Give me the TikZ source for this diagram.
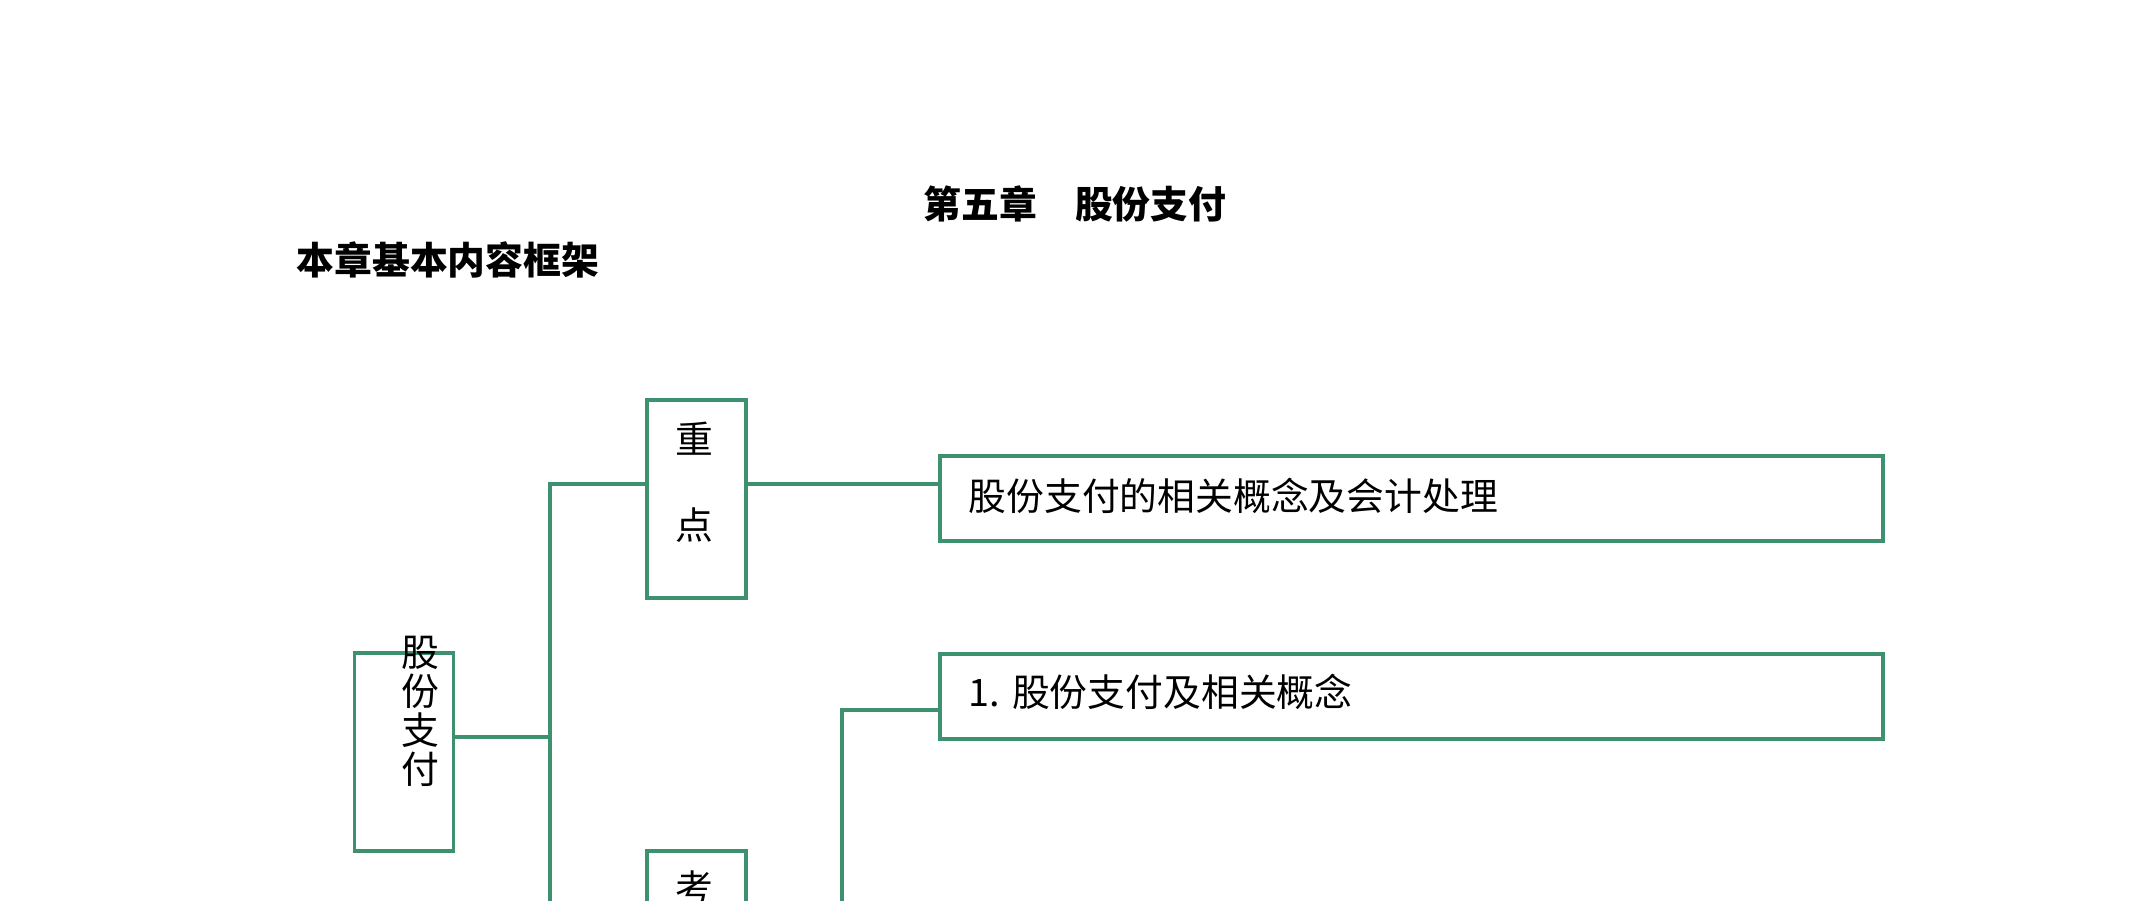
\documentclass[tikz,border=0pt]{standalone}
\usepackage{fontspec}
\setmainfont{Noto Sans CJK SC}
\definecolor{boxgreen}{RGB}{61,145,110}
\begin{document}
\begin{tikzpicture}[x=0.01cm,y=-0.01cm,
  boxline/.style={draw=boxgreen,line width=1.05pt},
  conn/.style={draw=boxgreen,line width=1.05pt},
  txt/.style={font=\fontsize{10.75pt}{13pt}\selectfont,inner sep=0pt},
  ttl/.style={font=\fontsize{10.75pt}{13pt}\selectfont\bfseries,inner sep=0pt},
  wide/.style={boxline,minimum width=9.43cm,minimum height=0.85cm,inner sep=0pt},
  tall/.style={boxline,minimum width=0.99cm,minimum height=1.98cm,inner sep=0pt}
]
\useasboundingbox (0,0) rectangle (2149,900);
% titles
\node[ttl] (title) at (1075,204) {第五章　股份支付};
\node[ttl,anchor=west] (sub) at (296,260) {本章基本内容框架};
% root box
\node[tall] (root) at (404,752) {};
\node[txt,align=center,font=\fontsize{10.75pt}{11.1pt}\selectfont] (roottxt) at (420,711) {股\\份\\支\\付};
% key point box
\node[tall] (zd) at (696.5,499) {};
\node[txt,align=center,font=\fontsize{10.75pt}{24.5pt}\selectfont] (zdtxt) at (694,482) {重\\点};
% exam box (cut off by page bottom)
\node[tall] (kd) at (696.5,950) {};
\node[txt] (kdtxt) at (694,888) {考};
% right boxes
\node[wide] (b1) at (1411.5,498.5) {};
\node[txt,anchor=west] (b1txt) at (968,496) {股份支付的相关概念及会计处理};
\node[wide] (b2) at (1411.5,696.5) {};
\node[txt,anchor=west] (b2txt) at (968,692) {1.\hspace{0.12cm}股份支付及相关概念};
% connectors
\coordinate (trunk) at (550,737);
\coordinate (t1) at (550,484);
\coordinate (t2) at (550,1000);
\coordinate (s1) at (842,710);
\coordinate (s2) at (842,1000);
\draw[conn] (root.east |- trunk) -- (trunk);
\draw[conn] (t2) -- (t1) -- (t1 -| zd.west);
\draw[conn] (zd.east |- t1) -- (t1 -| b1.west);
\draw[conn] (s2) -- (s1) -- (s1 -| b2.west);
\end{tikzpicture}
\end{document}
